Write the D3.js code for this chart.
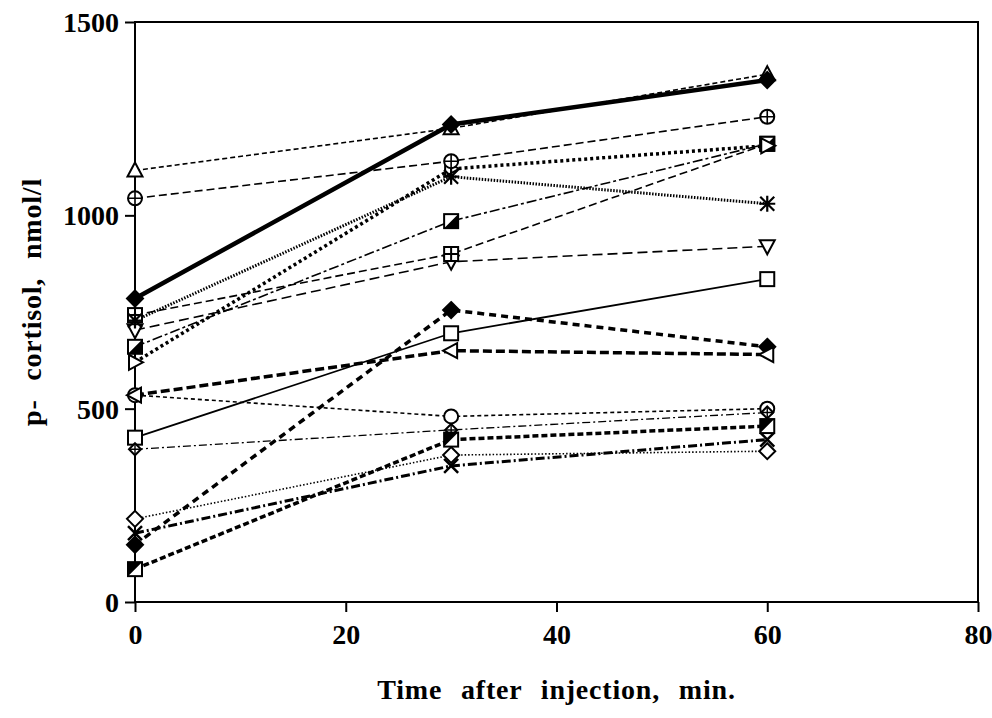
<!DOCTYPE html>
<html>
<head>
<meta charset="utf-8">
<script src="https://cdn.jsdelivr.net/npm/d3@7"></script>
<style>
  body { margin: 0; background: #fff; }
  text { font-family: "Liberation Serif", "Times New Roman", serif; font-weight: bold; fill: #000; }
</style>
</head>
<body>
<script>
// sampling times (min)
const times = [0, 30, 60];

// p-cortisol per subject (nmol/l)
const subjA = [785, 1235, 1350];   // filled diamond, thick solid
const subjB = [1116, 1225, 1365];  // triangle up
const subjC = [1044, 1140, 1255];  // circle plus
const subjD = [728, 1100, 1030];   // asterisk
const subjE = [620, 1120, 1180];   // triangle right
const subjF = [660, 985, 1185];    // half filled square
const subjG = [742, 900, 1185];    // grid square
const subjH = [703, 880, 920];     // triangle down
const subjI = [425, 695, 835];     // open square
const subjJ = [535, 650, 640];     // triangle left
const subjK = [535, 480, 500];     // open circle
const subjL = [395, 445, 490];     // diamond plus
const subjM = [148, 755, 660];     // filled diamond, thick dashed
const subjN = [215, 380, 390];     // open diamond
const subjO = [178, 352, 420];     // cross
const subjP = [85, 420, 455];      // half filled square, lower

const yTicks = [0, 500, 1000, 1500];
const xTicks = [0, 20, 40, 60, 80];

const width = 992;
const height = 718;
const margin = { left: 135, right: 14, top: 22, bottom: 116 };

const svg = d3.select("body")
    .append("svg")
    .attr("width", width)
    .attr("height", height);

const x = d3.scaleLinear()
    .domain([0, 80])
    .range([margin.left, width - margin.right]);

const y = d3.scaleLinear()
    .domain([0, 1500])
    .range([height - margin.bottom, margin.top]);

// series, with how each one is drawn
const series = [
    { values: subjI, marker: "square", dash: null, w: 1.8 },
    { values: subjK, marker: "circle", dash: "4,3", w: 1.6 },
    { values: subjL, marker: "diamondPlus", dash: "8,3,2,3", w: 1.3 },
    { values: subjN, marker: "diamond", dash: "1.5,2", w: 1.6 },
    { values: subjO, marker: "cross", dash: "9,3,2,3", w: 3 },
    { values: subjP, marker: "halfSquare", dash: "6,3", w: 3.5 },
    { values: subjM, marker: "diamondFilled", dash: "7,5", w: 3.5 },
    { values: subjJ, marker: "triLeft", dash: "9,4", w: 3.5 },
    { values: subjH, marker: "triDown", dash: "10,5", w: 1.6 },
    { values: subjG, marker: "gridSquare", dash: "8,4", w: 1.6 },
    { values: subjF, marker: "halfSquare2", dash: "10,3,3,3", w: 1.6 },
    { values: subjE, marker: "triRight", dash: "3,3", w: 3.5 },
    { values: subjD, marker: "asterisk", dash: "1.5,1.5", w: 3 },
    { values: subjC, marker: "circlePlus", dash: "8,4", w: 1.6 },
    { values: subjB, marker: "triUp", dash: "5,3", w: 1.6 },
    { values: subjA, marker: "diamondFilled", dash: null, w: 4.5 }
];

const line = d3.line()
    .x(function (d, i) { return x(times[i]); })
    .y(function (d) { return y(d); });

// frame
svg.append("rect")
    .attr("x", x(0))
    .attr("y", y(1500))
    .attr("width", x(80) - x(0))
    .attr("height", y(0) - y(1500))
    .style("fill", "none")
    .style("stroke", "#000")
    .style("stroke-width", 2);

// axes
const yAxis = svg.append("g")
    .attr("transform", "translate(" + x(0) + ",0)")
    .call(d3.axisLeft(y).tickValues(yTicks).tickFormat(d3.format("d")).tickSize(10).tickPadding(6));

const xAxis = svg.append("g")
    .attr("transform", "translate(0," + y(0) + ")")
    .call(d3.axisBottom(x).tickValues(xTicks).tickFormat(d3.format("d")).tickSize(10).tickPadding(12));

[yAxis, xAxis].forEach(function (a) {
    a.select(".domain").remove();
    a.selectAll("line").style("stroke", "#000").style("stroke-width", 2);
    a.selectAll("text").style("font-size", "28px").style("font-family", "Liberation Serif, serif").style("font-weight", "bold");
});
yAxis.selectAll("text").attr("dy", "0.34em");

// axis titles
svg.append("text")
    .attr("x", (x(0) + x(80)) / 2)
    .attr("y", 699)
    .attr("text-anchor", "middle")
    .style("font-size", "28px")
    .style("letter-spacing", "0.8px")
    .style("word-spacing", "11px")
    .text("Time after injection, min.");

svg.append("text")
    .attr("transform", "translate(41,302) rotate(-90)")
    .attr("text-anchor", "middle")
    .style("font-size", "28px")
    .style("letter-spacing", "0.8px")
    .style("word-spacing", "11px")
    .text("p- cortisol, nmol/l");

// lines
const plot = svg.append("g");

series.forEach(function (s) {
    plot.append("path")
        .datum(s.values)
        .attr("d", line)
        .style("fill", "none")
        .style("stroke", "#000")
        .style("stroke-width", s.w)
        .style("stroke-dasharray", s.dash);
});

// markers
function drawMarker(g, type, cx, cy) {
    const r = 7;
    const m = g.append("g").attr("transform", "translate(" + cx + "," + cy + ")");
    const st = function (sel, fill) {
        return sel.style("fill", fill || "#fff").style("stroke", "#000").style("stroke-width", 2);
    };
    if (type === "square" || type === "gridSquare" || type === "halfSquare" || type === "halfSquare2") {
        st(m.append("rect").attr("x", -r).attr("y", -r).attr("width", 2 * r).attr("height", 2 * r));
        if (type === "gridSquare") {
            m.append("path").attr("d", "M0," + (-r) + "V" + r + "M" + (-r) + ",0H" + r)
                .style("stroke", "#000").style("stroke-width", 2);
        }
        if (type === "halfSquare") {
            m.append("path").attr("d", "M" + (-r) + "," + (-r) + "L" + r + "," + (-r) + "L" + (-r) + "," + r + "Z")
                .style("fill", "#000");
        }
        if (type === "halfSquare2") {
            m.append("path").attr("d", "M" + r + "," + (-r) + "L" + r + "," + r + "L" + (-r) + "," + r + "Z")
                .style("fill", "#000");
        }
    } else if (type === "circle" || type === "circlePlus") {
        st(m.append("circle").attr("r", r));
        if (type === "circlePlus") {
            m.append("path").attr("d", "M0," + (-r) + "V" + r + "M" + (-r) + ",0H" + r)
                .style("stroke", "#000").style("stroke-width", 1.6);
        }
    } else if (type === "diamond" || type === "diamondFilled" || type === "diamondPlus") {
        const rr = type === "diamondPlus" ? 6 : 8;
        st(m.append("path").attr("d", "M0," + (-rr) + "L" + rr + ",0L0," + rr + "L" + (-rr) + ",0Z"),
            type === "diamondFilled" ? "#000" : "#fff");
        if (type === "diamondPlus") {
            m.append("path").attr("d", "M0," + (-rr) + "V" + rr + "M" + (-rr) + ",0H" + rr)
                .style("stroke", "#000").style("stroke-width", 1.4);
        }
    } else if (type === "triUp") {
        st(m.append("path").attr("d", "M0,-8L7.5,6L-7.5,6Z"));
    } else if (type === "triDown") {
        st(m.append("path").attr("d", "M0,8L7.5,-6L-7.5,-6Z"));
    } else if (type === "triLeft") {
        st(m.append("path").attr("d", "M-8,0L6,-7.5L6,7.5Z"));
    } else if (type === "triRight") {
        st(m.append("path").attr("d", "M8,0L-6,-7.5L-6,7.5Z"));
    } else if (type === "cross") {
        m.append("path").attr("d", "M-7,-7L7,7M-7,7L7,-7")
            .style("stroke", "#000").style("stroke-width", 2.5);
    } else if (type === "asterisk") {
        m.append("path").attr("d", "M-7,-7L7,7M-7,7L7,-7M0,-8V8M-8,0H8")
            .style("stroke", "#000").style("stroke-width", 2.2);
    }
}

const markers = svg.append("g");
series.forEach(function (s) {
    s.values.forEach(function (v, i) {
        drawMarker(markers, s.marker, x(times[i]), y(v));
    });
});
</script>
</body>
</html>
